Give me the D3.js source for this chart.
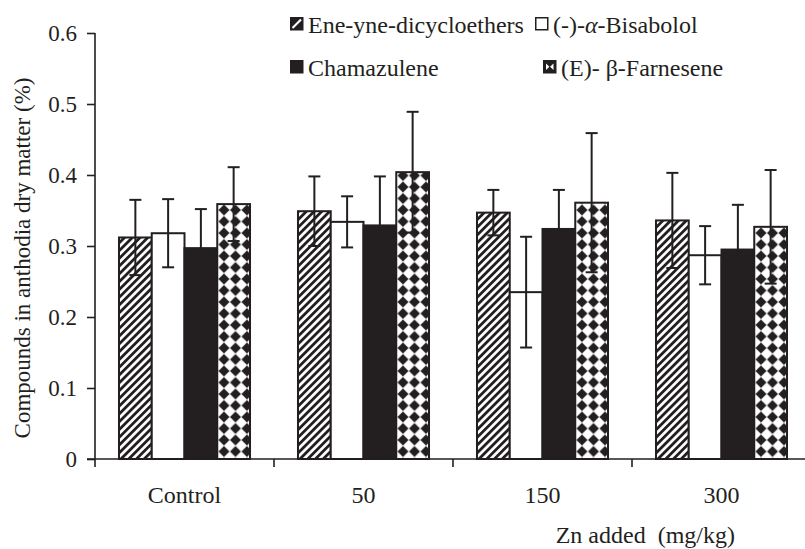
<!DOCTYPE html>
<html>
<head>
<meta charset="utf-8">
<script src="https://cdn.jsdelivr.net/npm/d3@7"></script>
<style>
  body { margin: 0; background: #fff; }
  text { font-family: "Liberation Serif", "Times New Roman", serif; fill: #231f20; }
</style>
</head>
<body>
<svg id="chart" width="805" height="549"></svg>
<script>
// data
var categories = ["Control", "50", "150", "300"];
var seriesNames = ["Ene-yne-dicycloethers", "(-)-α-Bisabolol", "Chamazulene", "(E)- β-Farnesene"];
var eneyne = [0.312, 0.349, 0.347, 0.336];
var bisabolol = [0.318, 0.334, 0.235, 0.287];
var chamazulene = [0.297, 0.329, 0.324, 0.295];
var farnesene = [0.359, 0.404, 0.361, 0.327];
var eneyneErr = [0.053, 0.049, 0.032, 0.067];
var bisabololErr = [0.048, 0.036, 0.078, 0.041];
var chamazuleneErr = [0.055, 0.069, 0.055, 0.063];
var farneseneErr = [0.052, 0.085, 0.098, 0.080];
var yTicks = [0, 0.1, 0.2, 0.3, 0.4, 0.5, 0.6];

var values = [eneyne, bisabolol, chamazulene, farnesene];
var errors = [eneyneErr, bisabololErr, chamazuleneErr, farneseneErr];
var ink = "#231f20";

var svg = d3.select("#chart");

// patterns
var defs = svg.append("defs");
var hatch = defs.append("pattern")
    .attr("id", "hatch")
    .attr("patternUnits", "userSpaceOnUse")
    .attr("width", 5.5).attr("height", 5.5)
    .attr("patternTransform", "rotate(45)");
hatch.append("rect").attr("width", 5.5).attr("height", 5.5).attr("fill", "#fff");
hatch.append("rect").attr("width", 2.8).attr("height", 5.5).attr("fill", ink);

var p = 11.5;
var checker = defs.append("pattern")
    .attr("id", "checker")
    .attr("patternUnits", "userSpaceOnUse")
    .attr("width", p).attr("height", p)
    .attr("x", 1.5).attr("y", 3);
checker.append("rect").attr("width", p).attr("height", p).attr("fill", "#fff");
var h = p * 0.48;
[[0, 0], [p, 0], [0, p], [p, p]].forEach(function (c) {
    checker.append("path")
        .attr("d", "M" + (c[0] - h) + "," + c[1] + "L" + c[0] + "," + (c[1] - h) +
            "L" + (c[0] + h) + "," + c[1] + "L" + c[0] + "," + (c[1] + h) + "Z")
        .attr("fill", ink);
});

var fills = ["url(#hatch)", "#fff", ink, "url(#checker)"];

// scales
var x0 = d3.scaleBand()
    .domain(categories)
    .range([95, 811])
    .paddingInner(0.268)
    .paddingOuter(0.134);

var x1 = d3.scaleBand()
    .domain(d3.range(seriesNames.length))
    .range([0, x0.bandwidth()]);

var y = d3.scaleLinear()
    .domain([0, 0.6])
    .range([459, 33]);

// bars
var groups = svg.append("g").selectAll("g")
    .data(categories)
    .enter()
    .append("g")
    .attr("transform", function (d) { return "translate(" + x0(d) + ",0)"; });

function rowOf(d, i) {
    return values.map(function (s, k) { return { k: k, v: s[i], e: errors[k][i] }; });
}

groups.selectAll("rect")
    .data(rowOf)
    .enter()
    .append("rect")
    .attr("x", function (d) { return x1(d.k); })
    .attr("y", function (d) { return y(d.v); })
    .attr("width", x1.bandwidth())
    .attr("height", function (d) { return y(0) - y(d.v); })
    .attr("fill", function (d) { return fills[d.k]; })
    .attr("stroke", ink)
    .attr("stroke-width", 2);

// error bars
var errs = groups.selectAll("g.err")
    .data(rowOf)
    .enter()
    .append("g")
    .attr("class", "err")
    .attr("stroke", ink)
    .attr("stroke-width", 2);

errs.append("line")
    .attr("x1", function (d) { return x1(d.k) + x1.bandwidth() / 2; })
    .attr("x2", function (d) { return x1(d.k) + x1.bandwidth() / 2; })
    .attr("y1", function (d) { return y(d.v + d.e); })
    .attr("y2", function (d) { return y(d.v - d.e); });

[1, -1].forEach(function (sign) {
    errs.append("line")
        .attr("x1", function (d) { return x1(d.k) + x1.bandwidth() / 2 - 6; })
        .attr("x2", function (d) { return x1(d.k) + x1.bandwidth() / 2 + 6; })
        .attr("y1", function (d) { return y(d.v + sign * d.e); })
        .attr("y2", function (d) { return y(d.v + sign * d.e); });
});

// y axis
var yAxis = svg.append("g")
    .attr("transform", "translate(95,0)")
    .call(d3.axisLeft(y).tickValues(yTicks).tickSize(8).tickPadding(10)
        .tickFormat(function (d) { return d === 0 ? "0" : d3.format(".1f")(d); }));
yAxis.select(".domain").attr("stroke", ink).attr("stroke-width", 1.6).attr("d", "M0," + y(0.6) + "V" + y(0));
yAxis.selectAll(".tick line").attr("stroke", ink).attr("stroke-width", 1.6);
yAxis.selectAll("text").attr("font-size", 23).attr("font-family", null).attr("fill", ink);

// x axis
var xAxis = svg.append("g")
    .attr("transform", "translate(0," + y(0) + ")");
xAxis.append("line")
    .attr("x1", 87).attr("x2", 811)
    .attr("stroke", ink).attr("stroke-width", 1.6);
xAxis.selectAll("line.tick")
    .data(categories)
    .enter()
    .append("line")
    .attr("class", "tick")
    .attr("x1", function (d) { return x0(d) - x0.step() * 0.134; })
    .attr("x2", function (d) { return x0(d) - x0.step() * 0.134; })
    .attr("y1", 0).attr("y2", 8)
    .attr("stroke", ink).attr("stroke-width", 1.6);
xAxis.selectAll("text")
    .data(categories)
    .enter()
    .append("text")
    .attr("x", function (d) { return x0(d) + x0.bandwidth() / 2; })
    .attr("y", 44)
    .attr("text-anchor", "middle")
    .attr("font-size", 24)
    .text(function (d) { return d; });

// axis titles
svg.append("text")
    .attr("transform", "translate(30,258) rotate(-90)")
    .attr("text-anchor", "middle")
    .attr("font-size", 23)
    .text("Compounds in anthodia dry matter (%)");

svg.append("text")
    .attr("x", 735)
    .attr("y", 543)
    .attr("text-anchor", "end")
    .attr("font-size", 24)
    .attr("xml:space", "preserve")
    .text("Zn added  (mg/kg)");

// legend
var legendPos = [[290, 17], [535, 17], [290, 60], [543, 60]];
var legend = svg.append("g").selectAll("g")
    .data(seriesNames)
    .enter()
    .append("g")
    .attr("transform", function (d, i) { return "translate(" + legendPos[i][0] + "," + legendPos[i][1] + ")"; });

legend.append("rect")
    .attr("x", 0.75).attr("y", 0.75)
    .attr("width", 12).attr("height", 12)
    .attr("fill", function (d, i) { return i === 1 ? "#fff" : ink; })
    .attr("stroke", ink)
    .attr("stroke-width", 1.5);

legend.filter(function (d, i) { return i === 0; })
    .append("line")
    .attr("x1", 2.5).attr("y1", 11).attr("x2", 11).attr("y2", 2.5)
    .attr("stroke", "#fff").attr("stroke-width", 2.2);

legend.filter(function (d, i) { return i === 3; })
    .append("path")
    .attr("d", "M3,3.5L6.4,6.75L3,10ZM10.5,3.5L7.1,6.75L10.5,10Z")
    .attr("fill", "#fff");

legend.append("text")
    .attr("x", 18)
    .attr("y", 16)
    .attr("font-size", 24)
    .each(function (d) {
        var t = d3.select(this);
        if (d.indexOf("α") >= 0) {
            var parts = d.split("α");
            t.append("tspan").text(parts[0]);
            t.append("tspan").attr("font-style", "italic").text("α");
            t.append("tspan").text(parts[1]);
        } else {
            t.text(d);
        }
    });
</script>
</body>
</html>
